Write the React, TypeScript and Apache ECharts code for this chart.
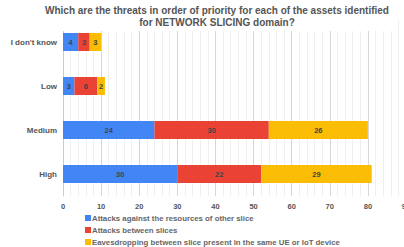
import React, { useEffect, useRef } from "react";
import * as echarts from "echarts";

const categories = ["I don't know", "Low", "Medium", "High"];
const seriesNames = [
  "Attacks against the resources of other slice",
  "Attacks between slices",
  "Eavesdropping between slice present in the same UE or IoT device",
];
const attacksResources = [4, 3, 24, 30];
const attacksBetween = [3, 6, 30, 22];
const eavesdropping = [3, 2, 26, 29];
const colors = ["#4285F4", "#EA4335", "#FBBC04"];

export default function App() {
  const ref = useRef<HTMLDivElement>(null);
  useEffect(() => {
    if (!ref.current) return;
    const chart = echarts.init(ref.current, null, { renderer: "svg" });
    const values = [attacksResources, attacksBetween, eavesdropping];
    chart.setOption({
      animation: false,
      title: {
        text: "Which are the threats in order of priority for each of the assets identified\nfor NETWORK SLICING domain?",
        left: 211,
        textAlign: "center",
        top: 1,
        backgroundColor: "#fff",
        padding: [4, 6, 3, 6],
        textStyle: {
          fontFamily: "Liberation Sans, Arial, sans-serif",
          fontSize: 10,
          fontWeight: "bold",
          color: "#555",
          lineHeight: 11.5,
        },
      },
      grid: { left: 63, right: -2, top: 20, bottom: 51, containLabel: false, outerBoundsMode: "none" },
      xAxis: {
        type: "value",
        min: 0,
        max: 90,
        interval: 10,
        axisLine: { show: false },
        axisTick: { show: false },
        axisLabel: {
          fontFamily: "Liberation Sans, Arial, sans-serif",
          fontSize: 7.5,
          fontWeight: "bold",
          color: "#555",
          margin: 6,
          showMaxLabel: true,
          alignMaxLabel: "center",
          hideOverlap: false,
        },
        splitLine: { show: true, lineStyle: { color: "#d6d6d6", width: 1 } },
        minorTick: { show: false, splitNumber: 5 },
        minorSplitLine: { show: true, lineStyle: { color: "#efefef", width: 1 } },
      },
      yAxis: {
        type: "category",
        data: categories,
        inverse: true,
        axisLine: { show: true, lineStyle: { color: "#ccc" } },
        axisTick: { show: false },
        axisLabel: {
          fontFamily: "Liberation Sans, Arial, sans-serif",
          fontSize: 8,
          fontWeight: "bold",
          color: "#555",
          margin: 6,
        },
      },
      legend: {
        orient: "vertical",
        left: 85,
        top: 213,
        padding: 0,
        itemWidth: 6,
        itemHeight: 6,
        itemGap: 2,
        icon: "rect",
        textStyle: {
          fontFamily: "Liberation Sans, Arial, sans-serif",
          fontSize: 7.8,
          fontWeight: "bold",
          color: "#666",
          lineHeight: 10,
          padding: [0, 0, 0, -4],
        },
        data: seriesNames,
      },
      series: seriesNames.map((name, i) => ({
        name,
        type: "bar",
        stack: "total",
        data: values[i],
        barWidth: 18,
        itemStyle: { color: colors[i] },
        label: {
          show: true,
          position: "inside",
          fontFamily: "Liberation Sans, Arial, sans-serif",
          fontSize: 7.5,
          fontWeight: "bold",
          color: "#444",
        },
      })),
    });
    return () => chart.dispose();
  }, []);
  return <div ref={ref} style={{ width: 404, height: 247, position: "absolute", left: 0, top: 0 }} />;
}
